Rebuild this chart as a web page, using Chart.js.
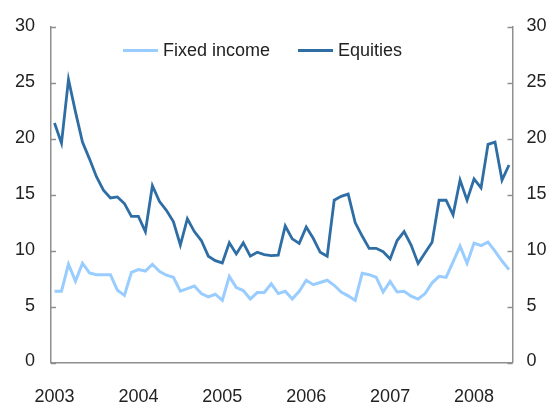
<!DOCTYPE html>
<html>
<head>
<meta charset="utf-8">
<script src="https://cdn.jsdelivr.net/npm/chart.js@4/dist/chart.umd.min.js"></script>
<style>
  html, body { margin: 0; padding: 0; background: #fff; }
  #wrap { position: relative; width: 551px; height: 404px; }
  .legend { position: absolute; top: 40px; left: 0; font-family: "Liberation Sans", Arial, sans-serif; font-size: 18px; color: #222; }
  .item { position: absolute; white-space: nowrap; display: flex; align-items: center; }
  .swatch { display: inline-block; width: 35px; height: 3px; margin-right: 5px; }
</style>
</head>
<body>
<div id="wrap">
  <canvas id="chart" width="551" height="404"></canvas>
  <div class="legend">
    <div class="item" style="left:123px"><span class="swatch" style="background:#99ccff"></span>Fixed income</div>
    <div class="item" style="left:298px"><span class="swatch" style="background:#2f6ea5"></span>Equities</div>
  </div>
</div>
<script>
// monthly, Jan 2003 - Jun 2008
const years = ['2003', '2004', '2005', '2006', '2007', '2008'];
const fixedIncome = [6.37, 6.37, 8.78, 7.27, 8.87, 8.0, 7.85, 7.85, 7.85, 6.45, 6.0, 8.05,
  8.3, 8.17, 8.78, 8.15, 7.8, 7.62, 6.37, 6.6, 6.83, 6.16, 5.87, 6.1,
  5.55, 7.7, 6.7, 6.43, 5.67, 6.25, 6.25, 7.03, 6.16, 6.37, 5.67, 6.37,
  7.35, 6.95, 7.15, 7.35, 6.9, 6.3, 5.96, 5.55, 7.97, 7.85, 7.62, 6.3,
  7.24, 6.3, 6.37, 5.93, 5.67, 6.16, 7.12, 7.7, 7.6, 9.0, 10.4, 8.87,
  10.67, 10.44, 10.76, 9.95, 9.07, 8.3];
const equities = [21.4, 19.6, 25.3, 22.4, 19.7, 18.2, 16.6, 15.4, 14.7, 14.8, 14.2, 13.05,
  13.05, 11.7, 15.8, 14.4, 13.6, 12.6, 10.5, 12.85, 11.7, 10.9, 9.5, 9.1,
  8.9, 10.7, 9.7, 10.7, 9.5, 9.85, 9.65, 9.55, 9.6, 12.2, 11.05, 10.65,
  12.1, 11.1, 9.85, 9.5, 14.5, 14.85, 15.05, 12.5, 11.3, 10.2, 10.2, 9.9,
  9.25, 10.9, 11.7, 10.5, 8.85, 9.8, 10.75, 14.5, 14.5, 13.2, 16.3, 14.5,
  16.4, 15.6, 19.5, 19.7, 16.3, 17.65];

// category labels, one per month
const labels = equities.map((_, i) => years[Math.floor(i / 12)] + '-' + String(i % 12 + 1).padStart(2, '0'));

const axisColor = '#8f8f8f';
Chart.defaults.font.family = '"Liberation Sans", Arial, sans-serif';
Chart.defaults.font.size = 18;
Chart.defaults.color = '#222';

// small tick marks pointing into the plot
const innerTicks = {
  id: 'innerTicks',
  afterDraw(chart) {
    const { ctx, chartArea } = chart;
    ctx.save();
    ctx.strokeStyle = axisColor;
    ctx.lineWidth = 1.5;
    [['y', 1], ['y2', -1]].forEach(([id, dir]) => {
      const s = chart.scales[id];
      const x0 = dir > 0 ? chartArea.left : chartArea.right;
      s.ticks.forEach(t => {
        const y = Math.round(s.getPixelForValue(t.value)) + 0.5;
        ctx.beginPath();
        ctx.moveTo(x0, y);
        ctx.lineTo(x0 + dir * 5, y);
        ctx.stroke();
      });
    });
    ctx.restore();
  }
};

new Chart(document.getElementById('chart'), {
  type: 'line',
  data: {
    labels,
    datasets: [
      { label: 'Fixed income', data: fixedIncome, borderColor: '#99ccff', borderWidth: 3, pointRadius: 0, tension: 0, yAxisID: 'y' },
      { label: 'Equities', data: equities, borderColor: '#2f6ea5', borderWidth: 2.8, pointRadius: 0, tension: 0, yAxisID: 'y' }
    ]
  },
  options: {
    responsive: false,
    animation: false,
    layout: { padding: { top: 19, left: 0, right: 0, bottom: 0 } },
    plugins: { legend: { display: false }, tooltip: { enabled: false } },
    scales: {
      x: {
        offset: true,
        grid: { display: false, drawTicks: false },
        border: { color: axisColor, width: 1.5 },
        ticks: {
          autoSkip: false, maxRotation: 0, padding: 24,
          callback: (v, i) => (i % 12 === 0 ? years[i / 12] : '')
        },
        afterFit: s => { s.height = 41.5; }
      },
      y: {
        position: 'left', min: 0, max: 30,
        grid: { display: false, drawTicks: false },
        border: { color: axisColor, width: 1.5 },
        ticks: { stepSize: 5, padding: 16, labelOffset: -1 },
        afterFit: s => { s.width = 51; }
      },
      y2: {
        position: 'right', min: 0, max: 30, display: true,
        grid: { display: false, drawTicks: false },
        border: { color: axisColor, width: 1.5 },
        ticks: { stepSize: 5, padding: 14, labelOffset: -1 },
        afterFit: s => { s.width = 38.5; }
      }
    }
  },
  plugins: [innerTicks]
});
</script>
</body>
</html>
